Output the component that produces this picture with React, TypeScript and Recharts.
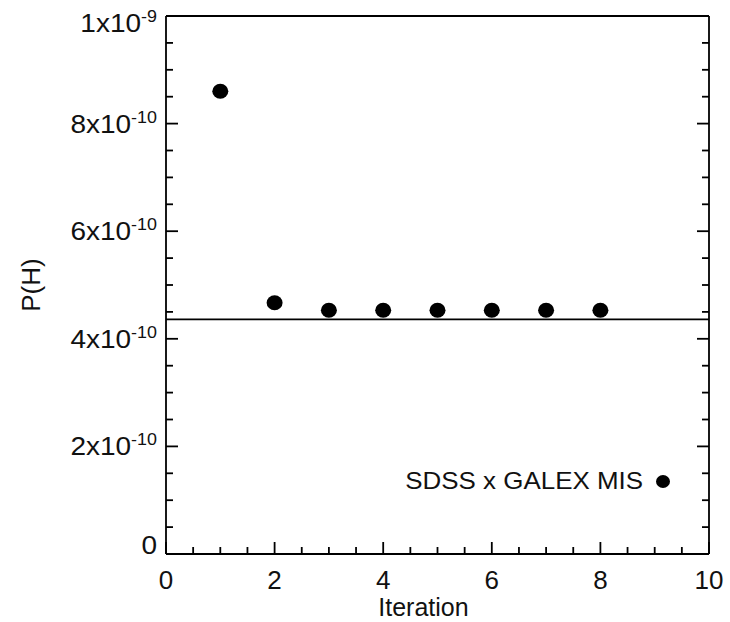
import React from 'react';
import { ScatterChart, Scatter, XAxis, YAxis, ReferenceLine } from 'recharts';

// P(H) per iteration
const iterations = [1, 2, 3, 4, 5, 6, 7, 8];
const probability = [8.6e-10, 4.67e-10, 4.53e-10, 4.53e-10, 4.53e-10, 4.53e-10, 4.53e-10, 4.53e-10];
const convergedLevel = 4.36e-10;

const xMajorTicks = [0, 2, 4, 6, 8, 10];
const xMinorTicks = [0.5, 1, 1.5, 2.5, 3, 3.5, 4.5, 5, 5.5, 6.5, 7, 7.5, 8.5, 9, 9.5];
const yMajorTicks = [0, 2e-10, 4e-10, 6e-10, 8e-10, 1e-9];
const yMinorTicks = [0.5e-10, 1e-10, 1.5e-10, 2.5e-10, 3e-10, 3.5e-10, 4.5e-10, 5e-10, 5.5e-10, 6.5e-10, 7e-10, 7.5e-10, 8.5e-10, 9e-10, 9.5e-10];
const yTickMantissa = ['0', '2', '4', '6', '8', '1'];
const yTickExponent = ['', '-10', '-10', '-10', '-10', '-9'];

const legendLabel = 'SDSS x GALEX MIS';

const FONT = '"Liberation Sans", Arial, sans-serif';
const INK = '#111';
const TICK = '#000';
const LW = 1.8;
const MAJOR = 12;
const MINOR = 7;
// tickSize + tickMargin: recharts hands the custom tick this far away from the axis line
const GAP = 8;

const data = iterations.map((it, i) => ({ x: it, y: probability[i] }));
const xTicks = [...xMajorTicks, ...xMinorTicks].sort((a, b) => a - b);
const yTicks = [...yMajorTicks, ...yMinorTicks].sort((a, b) => a - b);

const majorIndex = (list: number[], v: number) =>
    list.findIndex(m => Math.abs(m - v) < Math.abs(list[list.length - 1]) * 1e-6);

const BottomTick = ({ x, y, payload }: any) => {
    const i = majorIndex(xMajorTicks, payload.value);
    const base = y - GAP;
    return (
        <g>
            <line x1={x} x2={x} y1={base} y2={base - (i >= 0 ? MAJOR : MINOR)} stroke={TICK} strokeWidth={LW} />
            {i >= 0 && (
                <text x={x} y={base + 35} textAnchor="middle" fontSize={26} fontFamily={FONT} fill={INK}>
                    {payload.value}
                </text>
            )}
        </g>
    );
};

const TopTick = ({ x, y, payload }: any) => {
    const i = majorIndex(xMajorTicks, payload.value);
    const base = y + GAP;
    return <line x1={x} x2={x} y1={base} y2={base + (i >= 0 ? MAJOR : MINOR)} stroke={TICK} strokeWidth={LW} />;
};

const LeftTick = ({ x, y, payload }: any) => {
    const i = majorIndex(yMajorTicks, payload.value);
    const base = x + GAP;
    // first/last labels sit a little inside the axis range
    const shift = i === 0 ? -9 : i === yMajorTicks.length - 1 ? 7 : 0;
    return (
        <g>
            <line x1={base} x2={base + (i >= 0 ? MAJOR : MINOR)} y1={y} y2={y} stroke={TICK} strokeWidth={LW} />
            {i >= 0 && (
                <text
                    transform={`translate(${base - 9},${y + shift + 9}) scale(1.12,1)`}
                    textAnchor="end"
                    fontSize={25}
                    fontFamily={FONT}
                    fill={INK}
                >
                    {yTickExponent[i] ? (
                        <>
                            <tspan>{yTickMantissa[i]}x10</tspan>
                            <tspan dy={-10} fontSize={16}>{yTickExponent[i]}</tspan>
                        </>
                    ) : (
                        yTickMantissa[i]
                    )}
                </text>
            )}
        </g>
    );
};

const RightTick = ({ x, y, payload }: any) => {
    const i = majorIndex(yMajorTicks, payload.value);
    const base = x - GAP;
    return <line x1={base} x2={base - (i >= 0 ? MAJOR : MINOR)} y1={y} y2={y} stroke={TICK} strokeWidth={LW} />;
};

const XLabel = ({ viewBox }: any) => (
    <text
        x={viewBox.x + viewBox.width / 2 - 14}
        y={viewBox.y + viewBox.height - 6}
        textAnchor="middle"
        fontSize={25}
        fontFamily={FONT}
        fill={INK}
    >
        Iteration
    </text>
);

const YLabel = ({ viewBox }: any) => {
    const cx = viewBox.x + 31;
    const cy = viewBox.y + viewBox.height / 2;
    return (
        <text
            x={cx}
            y={cy}
            transform={`rotate(-90 ${cx} ${cy})`}
            textAnchor="middle"
            dominantBaseline="central"
            fontSize={26}
            fontFamily={FONT}
            fill={INK}
        >
            P(H)
        </text>
    );
};

const Dot = ({ cx, cy }: any) => <ellipse cx={cx} cy={cy} rx={8} ry={7.5} fill="#000" />;

const axisLine = { stroke: '#000', strokeWidth: LW };

export default function App() {
    return (
        <div style={{ position: 'absolute', left: 0, top: 0, width: 730, height: 622, background: '#fff' }}>
            <ScatterChart width={730} height={622} margin={{ top: 15, right: 20, bottom: 0, left: 0 }}>
                <XAxis
                    xAxisId="top"
                    orientation="top"
                    type="number"
                    domain={[0, 10]}
                    allowDataOverflow
                    ticks={xTicks}
                    interval={0}
                    height={1}
                    tickSize={6}
                    tickMargin={2}
                    tickLine={false}
                    tick={<TopTick />}
                    axisLine={axisLine}
                />
                <XAxis
                    type="number"
                    dataKey="x"
                    domain={[0, 10]}
                    allowDataOverflow
                    ticks={xTicks}
                    interval={0}
                    height={68}
                    tickSize={6}
                    tickMargin={2}
                    tickLine={false}
                    tick={<BottomTick />}
                    axisLine={axisLine}
                    label={<XLabel />}
                />
                <YAxis
                    type="number"
                    dataKey="y"
                    domain={[0, 1e-9]}
                    allowDataOverflow
                    ticks={yTicks}
                    interval={0}
                    width={166}
                    tickSize={6}
                    tickMargin={2}
                    tickLine={false}
                    tick={<LeftTick />}
                    axisLine={axisLine}
                    label={<YLabel />}
                />
                <YAxis
                    yAxisId="right"
                    orientation="right"
                    type="number"
                    domain={[0, 1e-9]}
                    allowDataOverflow
                    ticks={yTicks}
                    interval={0}
                    width={1}
                    tickSize={6}
                    tickMargin={2}
                    tickLine={false}
                    tick={<RightTick />}
                    axisLine={axisLine}
                />
                <ReferenceLine y={convergedLevel} stroke="#000" strokeWidth={LW} />
                <Scatter data={data} shape={<Dot />} isAnimationActive={false} />
            </ScatterChart>
            <div
                style={{
                    position: 'absolute',
                    left: 300,
                    width: 343,
                    top: 466,
                    textAlign: 'right',
                    lineHeight: '30px',
                    fontSize: 24,
                    fontFamily: FONT,
                    color: INK,
                    transform: 'scaleX(1.08)',
                    transformOrigin: 'right center',
                    whiteSpace: 'nowrap',
                }}
            >
                {legendLabel}
            </div>
            <div
                style={{ position: 'absolute', left: 656, top: 475, width: 14, height: 13, borderRadius: '50%', background: '#000' }}
            />
        </div>
    );
}
